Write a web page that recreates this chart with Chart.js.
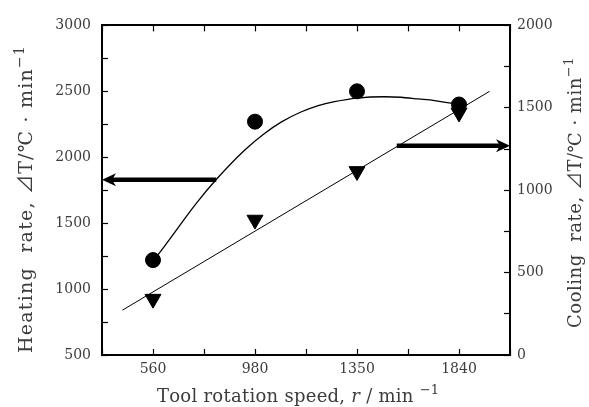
<!DOCTYPE html>
<html><head><meta charset="utf-8">
<script src="https://cdn.jsdelivr.net/npm/chart.js@4"></script>
<style>html,body{margin:0;padding:0;background:#fff}#wrap{width:589px;height:407px;position:relative}</style>
</head><body><div id="wrap"><canvas id="c" width="589" height="407"></canvas></div>
<script>
// ---- data ----
const categories = ['560', '980', '1350', '1840'];          // tool rotation speed (r/min), evenly spaced
const heatingRate = [1220, 2270, 2500, 2400];                // left axis, ΔT/℃·min-1
const coolingRate = [340, 820, 1115, 1470];                  // right axis, ΔT/℃·min-1
// fitted curve through heating data (x = category position)
const heatingFitX = [0, 0.05, 0.43, 0.62, 0.90, 1.09, 1.26, 1.45, 1.62, 1.78, 2.0, 2.27, 2.43, 2.60, 2.76, 2.92, 3.0];
const heatingFitY = [1215, 1262, 1656, 1831, 2055, 2178, 2268, 2343, 2392, 2422, 2449, 2459, 2455, 2442, 2430, 2410, 2405];
// fitted straight line through cooling data
const coolingFitX = [-0.3, 3.3];
const coolingFitY = [272, 1600];
// arrows: [fromX, toX, value]
const heatingArrow = [0.62, -0.5, 1830];
const coolingArrow = [2.39, 3.5, 1270];
const leftTicks = [500, 1000, 1500, 2000, 2500, 3000];
const rightTicks = [0, 500, 1000, 1500, 2000];

const xTitle = [{t: 'Tool rotation speed, '}, {t: 'r', it: true}, {t: ' / min '}, {t: '\u22121', sup: true}];
const yTitle = [{t: 'Heating  rate, '}, {t: '\u22BFT/\u2103'}, {t: ' \u00B7 min'}, {t: '\u22121', sup: true}];
const y2Title = [{t: 'Cooling  rate, '}, {t: '\u22BFT/\u2103'}, {t: ' \u00B7 min'}, {t: '\u22121', sup: true}];

const FONT = '"DejaVu Serif", "Noto Sans CJK JP", serif';
const TXT = '#3c3c3c';

function drawSegs(ctx, segs, cx, cy, rot, size, target) {
  ctx.save();
  ctx.translate(cx, cy); ctx.rotate(rot);
  const f = s => (s.it ? 'italic ' : '') + (s.sup ? Math.round(size * 0.72) : size) + 'px ' + FONT;
  let total = 0, n = 0;
  segs.forEach(s => { ctx.font = f(s); s.w = ctx.measureText(s.t).width; total += s.w; n += s.t.length; });
  const ls = target ? (target - total) / n : 0;
  total += ls * n;
  let x = -total / 2;
  ctx.textBaseline = 'alphabetic'; ctx.textAlign = 'left'; ctx.fillStyle = TXT;
  segs.forEach(s => {
    ctx.font = f(s);
    for (const ch of s.t) {
      ctx.fillText(ch, x, s.sup ? -size * 0.42 : 0);
      x += ctx.measureText(ch).width + ls;
    }
  });
  ctx.restore();
}

function drawArrow(ctx, x0, y, x1) {
  const dir = Math.sign(x1 - x0);
  const headLen = 14, headHalf = 6.5, notch = 10;
  ctx.save();
  ctx.strokeStyle = '#000'; ctx.fillStyle = '#000'; ctx.lineWidth = 4.5;
  ctx.beginPath(); ctx.moveTo(x0, y); ctx.lineTo(x1 - dir * notch, y); ctx.stroke();
  ctx.beginPath();
  ctx.moveTo(x1, y);
  ctx.lineTo(x1 - dir * headLen, y - headHalf);
  ctx.lineTo(x1 - dir * notch, y);
  ctx.lineTo(x1 - dir * headLen, y + headHalf);
  ctx.closePath(); ctx.fill();
  ctx.restore();
}

const decor = {
  id: 'decor',
  afterDatasetsDraw(chart) {
    const {ctx, scales} = chart;
    const xs = scales.x, y = scales.y, y2 = scales.y2;
    drawArrow(ctx, xs.getPixelForValue(heatingArrow[0]), y.getPixelForValue(heatingArrow[2]), xs.getPixelForValue(heatingArrow[1]));
    drawArrow(ctx, xs.getPixelForValue(coolingArrow[0]), y2.getPixelForValue(coolingArrow[2]), xs.getPixelForValue(coolingArrow[1]));
  },
  afterDraw(chart) {
    const ctx = chart.ctx;
    drawSegs(ctx, xTitle, 297.5, 402, 0, 18, 281);
    drawSegs(ctx, yTitle, 32, 199, -Math.PI / 2, 19, 308);
    drawSegs(ctx, y2Title, 581, 192.5, -Math.PI / 2, 18, 271);
  }
};

const tickFont = {family: FONT, size: 14};
const gridCommon = {drawOnChartArea: false, tickLength: -6, tickWidth: 1.2, tickColor: '#000'};
const borderCommon = {color: '#000', width: 2};

new Chart(document.getElementById('c'), {
  type: 'scatter',
  data: {
    datasets: [
      {
        label: 'Heating rate',
        data: categories.map((c, i) => ({x: i, y: heatingRate[i]})),
        yAxisID: 'y', pointStyle: 'circle', pointRadius: 7.5, pointHoverRadius: 7.5,
        backgroundColor: '#000', borderColor: '#000', borderWidth: 1, showLine: false
      },
      {
        label: 'Cooling rate',
        data: categories.map((c, i) => ({x: i, y: coolingRate[i]})),
        yAxisID: 'y2', pointStyle: 'triangle', rotation: 180, pointRadius: 9.2, pointHoverRadius: 9.2,
        backgroundColor: '#000', borderColor: '#000', borderWidth: 1, showLine: false
      },
      {
        type: 'line', label: 'Heating fit',
        data: heatingFitX.map((x, i) => ({x, y: heatingFitY[i]})),
        yAxisID: 'y', borderColor: '#000', borderWidth: 1.3, pointRadius: 0,
        cubicInterpolationMode: 'monotone', fill: false
      },
      {
        type: 'line', label: 'Cooling fit',
        data: coolingFitX.map((x, i) => ({x, y: coolingFitY[i]})),
        yAxisID: 'y2', borderColor: '#000', borderWidth: 1, pointRadius: 0, fill: false
      }
    ]
  },
  options: {
    responsive: false, animation: false, devicePixelRatio: 1,
    layout: {padding: 0},
    plugins: {legend: {display: false}, tooltip: {enabled: false}},
    scales: {
      x: {
        type: 'linear', position: 'bottom', min: -0.5, max: 3.5,
        afterFit: s => { s.height = 52; },
        ticks: {stepSize: 0.5, autoSkip: false, maxRotation: 0, font: tickFont, color: TXT, padding: 12,
          callback: v => Number.isInteger(v) ? categories[v] : ''},
        grid: gridCommon, border: borderCommon
      },
      x2: {
        type: 'linear', position: 'top', min: -0.5, max: 3.5,
        afterFit: s => { s.height = 20; },
        ticks: {stepSize: 0.5, autoSkip: false, maxRotation: 0, font: tickFont, callback: () => ''},
        grid: gridCommon, border: borderCommon
      },
      y: {
        type: 'linear', position: 'left', min: leftTicks[0], max: leftTicks[leftTicks.length - 1],
        afterFit: s => { s.width = 102; },
        ticks: {stepSize: 250, autoSkip: false, font: tickFont, color: TXT, padding: 17,
          callback: v => leftTicks.includes(v) ? String(v) : ''},
        grid: gridCommon, border: borderCommon
      },
      y2: {
        type: 'linear', position: 'right', min: rightTicks[0], max: rightTicks[rightTicks.length - 1],
        afterFit: s => { s.width = 79; },
        ticks: {stepSize: 250, autoSkip: false, font: tickFont, color: TXT, padding: 13,
          callback: v => rightTicks.includes(v) ? String(v) : ''},
        grid: gridCommon, border: borderCommon
      }
    }
  },
  plugins: [decor]
});
</script>
</body></html>
